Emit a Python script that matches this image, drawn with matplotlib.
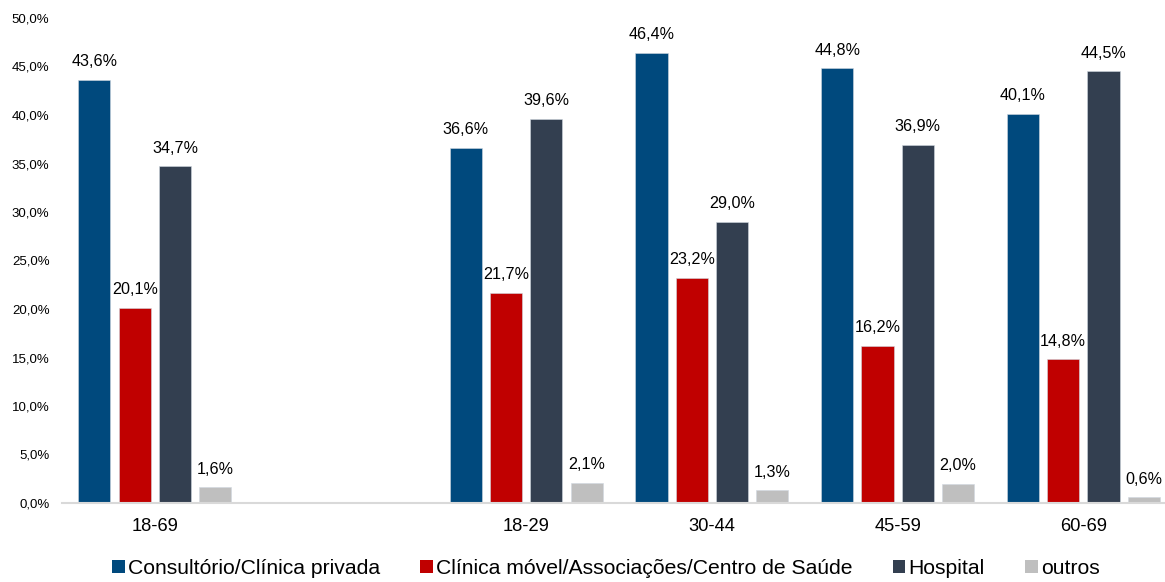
import matplotlib.pyplot as plt
import numpy as np
from matplotlib.patches import Patch

plt.rcParams['font.family'] = ['Liberation Sans', 'DejaVu Sans']

categories = ['18-69', '', '18-29', '30-44', '45-59', '60-69']
series_names = ['Consultório/Clínica privada',
                'Clínica móvel/Associações/Centro de Saúde',
                'Hospital', 'outros']
consultorio = [43.6, None, 36.6, 46.4, 44.8, 40.1]
clinica_movel = [20.1, None, 21.7, 23.2, 16.2, 14.8]
hospital = [34.7, None, 39.6, 29.0, 36.9, 44.5]
outros = [1.6, None, 2.1, 1.3, 2.0, 0.6]
colors = ['#00497D', '#C00000', '#333F50', '#BFBFBF']

fig = plt.figure(figsize=(11.65, 5.82), dpi=100)
ax = fig.add_axes([62 / 1165, 1 - 503 / 582, 1 - 62 / 1165, 485 / 582])

x = np.arange(len(categories))
width = 0.173
step = 0.217
all_series = [consultorio, clinica_movel, hospital, outros]
for i, (vals, col) in enumerate(zip(all_series, colors)):
    idx = [k for k, v in enumerate(vals) if v is not None]
    v = [vals[k] for k in idx]
    pos = x[idx] + (i - 1.5) * step
    bars = ax.bar(pos, v, width=width, color=col, edgecolor='#d0d8e0',
                  linewidth=0.4, zorder=2)
    for b, val in zip(bars, v):
        ax.text(b.get_x() + b.get_width() / 2, val + 1.1,
                f'{val:.1f}%'.replace('.', ','),
                ha='center', va='bottom', fontsize=11.6, color='#000000')

ax.set_xlim(-0.5, 5.44)
ax.set_ylim(0, 50)
ax.set_yticks(np.arange(0, 51, 5))
ax.set_yticklabels([f'{t:.1f}%'.replace('.', ',') for t in np.arange(0, 51, 5)],
                   fontsize=9.5)
ax.set_xticks(x)
ax.set_xticklabels(categories, fontsize=13.2)
ax.tick_params(axis='both', length=0)
ax.tick_params(axis='y', pad=9)
ax.tick_params(axis='x', pad=11)
for s in ['top', 'right', 'left']:
    ax.spines[s].set_visible(False)
ax.spines['bottom'].set_color('#D9D9D9')
ax.spines['bottom'].set_linewidth(1.5)

handles = [Patch(facecolor=c, edgecolor='none') for c in colors]
fig.legend(handles, series_names, loc='lower center', ncol=4,
           bbox_to_anchor=(0.52, -0.026), frameon=False, fontsize=15.2,
           handlelength=0.6, handleheight=0.6, handletextpad=0.15,
           columnspacing=1.9)

fig.savefig('out.png', dpi=100)
